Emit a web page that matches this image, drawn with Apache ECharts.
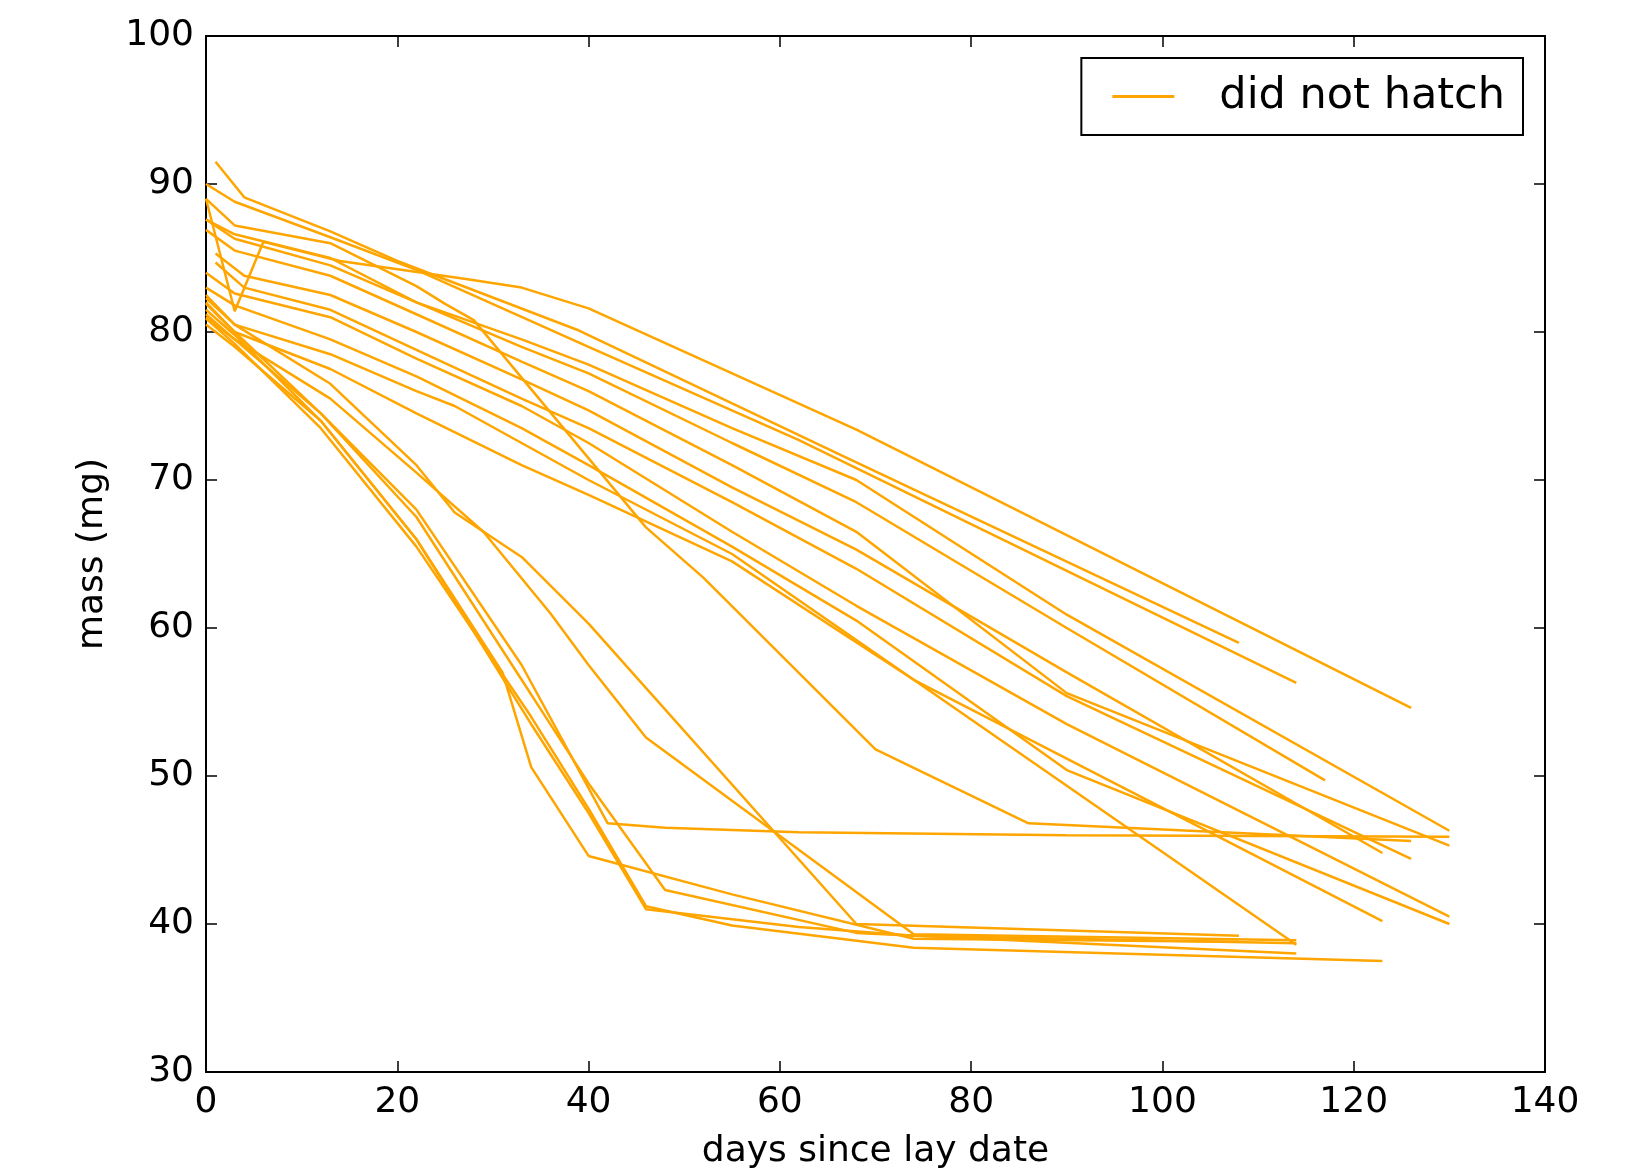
<!DOCTYPE html>
<html>
<head>
<meta charset="utf-8">
<script src="https://cdn.jsdelivr.net/npm/echarts@6/dist/echarts.min.js"></script>
<style>
  html, body { margin: 0; padding: 0; background: #fff; }
  #chart { width: 1640px; height: 1168px; }
</style>
</head>
<body>
<div id="chart"></div>
<script>
// mass of each egg (mg) against days since lay date
const eggA_days = [1, 4, 13, 20, 39, 67, 108]
const eggA_mass = [91.5, 89.1, 86.8, 84.8, 80.1, 71.5, 59.0]
const eggB_days = [0, 3, 13, 22, 40, 62, 114]
const eggB_mass = [90.0, 88.8, 86.4, 84.2, 79.0, 72.7, 56.3]
const eggC_days = [0, 3, 6, 14, 27, 33, 40, 68, 126]
const eggC_mass = [89.0, 81.4, 86.1, 84.8, 83.6, 83.0, 81.6, 73.4, 54.6]
const eggD_days = [0, 3, 13, 22, 33, 40, 55, 68, 90, 117]
const eggD_mass = [87.6, 86.6, 85.0, 82.0, 79.0, 77.2, 72.5, 68.5, 60.0, 49.7]
const eggE_days = [0, 3, 13, 22, 33, 40, 55, 68, 90, 130]
const eggE_mass = [87.6, 86.3, 84.5, 82.0, 79.5, 77.8, 73.5, 70.0, 60.9, 46.3]
const eggF_days = [0, 3, 13, 22, 33, 40, 55, 68, 90, 130]
const eggF_mass = [86.9, 85.5, 83.8, 81.2, 78.0, 76.0, 71.0, 66.5, 55.6, 45.3]
const eggG_days = [1, 4, 13, 22, 33, 40, 55, 68, 90, 123]
const eggG_mass = [85.3, 83.8, 82.5, 80.0, 76.8, 74.7, 69.5, 65.3, 57.0, 44.8]
const eggH_days = [1, 4, 13, 22, 33, 40, 55, 68, 90, 126]
const eggH_mass = [84.7, 83.0, 81.5, 78.8, 75.5, 73.5, 68.5, 64.0, 55.4, 44.4]
const eggI_days = [0, 3, 13, 22, 33, 40, 55, 68, 90, 130]
const eggI_mass = [84.0, 82.6, 81.0, 78.2, 75.0, 72.5, 66.5, 61.5, 53.5, 40.5]
const eggJ_days = [0, 3, 13, 22, 33, 40, 55, 68, 90, 130]
const eggJ_mass = [83.0, 81.8, 79.5, 77.0, 73.5, 71.0, 65.5, 60.5, 50.4, 40.0]
const eggK_days = [0, 3, 13, 22, 26, 33, 40, 55, 74, 123]
const eggK_mass = [82.3, 80.5, 78.5, 76.0, 75.0, 72.5, 70.0, 65.0, 56.5, 40.2]
const eggL_days = [0, 3, 13, 22, 33, 40, 55, 74, 114]
const eggL_mass = [81.9, 80.0, 77.5, 74.5, 71.0, 69.0, 64.5, 56.5, 38.6]
const eggM_days = [0, 3, 13, 22, 25, 28, 46, 52, 70, 86, 126]
const eggM_mass = [89.0, 87.2, 86.0, 83.1, 81.9, 80.8, 66.8, 63.4, 51.8, 46.8, 45.6]
const eggN_days = [0, 3, 12, 22, 33, 42, 48, 62, 90, 130]
const eggN_mass = [81.2, 79.5, 74.5, 68.0, 57.5, 46.8, 46.5, 46.2, 46.0, 45.9]
const eggO_days = [0, 3, 13, 22, 26, 33, 40, 68, 108]
const eggO_mass = [82.5, 80.5, 76.5, 71.0, 67.8, 64.8, 60.3, 40.0, 39.2]
const eggP_days = [0, 3, 13, 22, 29, 36, 40, 46, 74, 114]
const eggP_mass = [81.0, 79.5, 75.5, 70.5, 66.5, 61.0, 57.5, 52.6, 39.3, 38.9]
const eggQ_days = [0, 3, 12, 22, 34, 40, 46, 55, 74, 123]
const eggQ_mass = [80.9, 79.2, 73.5, 65.5, 54.0, 47.8, 41.2, 39.9, 38.4, 37.5]
const eggR_days = [0, 3, 12, 22, 34, 40, 46, 62, 74, 114]
const eggR_mass = [80.5, 79.0, 74.0, 66.0, 53.5, 47.5, 41.0, 39.8, 39.2, 38.7]
const eggS_days = [0, 3, 12, 22, 33, 35, 40, 48, 68, 114]
const eggS_mass = [82.0, 80.0, 74.5, 67.5, 56.5, 54.5, 49.5, 42.3, 39.4, 38.0]
const eggT_days = [0, 3, 12, 22, 31, 34, 40, 55, 74, 108]
const eggT_mass = [81.5, 79.8, 74.0, 66.0, 57.0, 50.6, 44.6, 42.0, 39.0, 38.8]

const eggs = [
  [eggA_days, eggA_mass], [eggB_days, eggB_mass], [eggC_days, eggC_mass],
  [eggD_days, eggD_mass], [eggE_days, eggE_mass], [eggF_days, eggF_mass],
  [eggG_days, eggG_mass], [eggH_days, eggH_mass], [eggI_days, eggI_mass],
  [eggJ_days, eggJ_mass], [eggK_days, eggK_mass], [eggL_days, eggL_mass],
  [eggM_days, eggM_mass], [eggN_days, eggN_mass], [eggO_days, eggO_mass],
  [eggP_days, eggP_mass], [eggQ_days, eggQ_mass], [eggR_days, eggR_mass],
  [eggS_days, eggS_mass], [eggT_days, eggT_mass]
]

const font = 'DejaVu Sans'
const orange = '#ffa500'

const frameAxis = (extra) => Object.assign({
  type: 'value',
  axisLine: { show: true, onZero: false, lineStyle: { color: '#000', width: 2 } },
  axisTick: { show: true, inside: true, length: 11, lineStyle: { color: '#000', width: 1.5 } },
  splitLine: { show: false }
}, extra)

const myChart = echarts.init(document.getElementById('chart'))
const option = {
  animation: false,
  backgroundColor: '#fff',
  textStyle: { fontFamily: font },
  grid: { left: 206, right: 95, top: 36, bottom: 96, containLabel: false, outerBoundsMode: 'none' },
  legend: {
    right: 117,
    top: 58,
    data: ['did not hatch'],
    icon: 'rect',
    itemWidth: 62,
    itemHeight: 3,
    padding: [17, 18, 17, 31],
    borderColor: '#000',
    borderWidth: 2,
    borderRadius: 0,
    textStyle: { fontFamily: font, fontSize: 43, color: '#000', padding: [0, 0, 0, 40] }
  },
  xAxis: [
    frameAxis({
      min: 0, max: 140, interval: 20,
      axisLabel: { fontSize: 36, color: '#000', margin: 13 },
      name: 'days since lay date',
      nameLocation: 'middle',
      nameGap: 62,
      nameTextStyle: { fontSize: 36, color: '#000' }
    }),
    frameAxis({ min: 0, max: 140, interval: 20, position: 'top', axisLabel: { show: false } })
  ],
  yAxis: [
    frameAxis({
      min: 30, max: 100, interval: 10,
      axisLabel: { fontSize: 36, color: '#000', margin: 12 },
      name: 'mass (mg)',
      nameLocation: 'middle',
      nameGap: 95,
      nameTextStyle: { fontSize: 36, color: '#000' }
    }),
    frameAxis({ min: 30, max: 100, interval: 10, position: 'right', axisLabel: { show: false } })
  ],
  series: eggs.map(([days, mass]) => ({
    name: 'did not hatch',
    type: 'line',
    symbol: 'none',
    data: days.map((d, i) => [d, mass[i]]),
    lineStyle: { color: orange, width: 2.5 },
    itemStyle: { color: orange }
  }))
}
myChart.setOption(option)
</script>
</body>
</html>
